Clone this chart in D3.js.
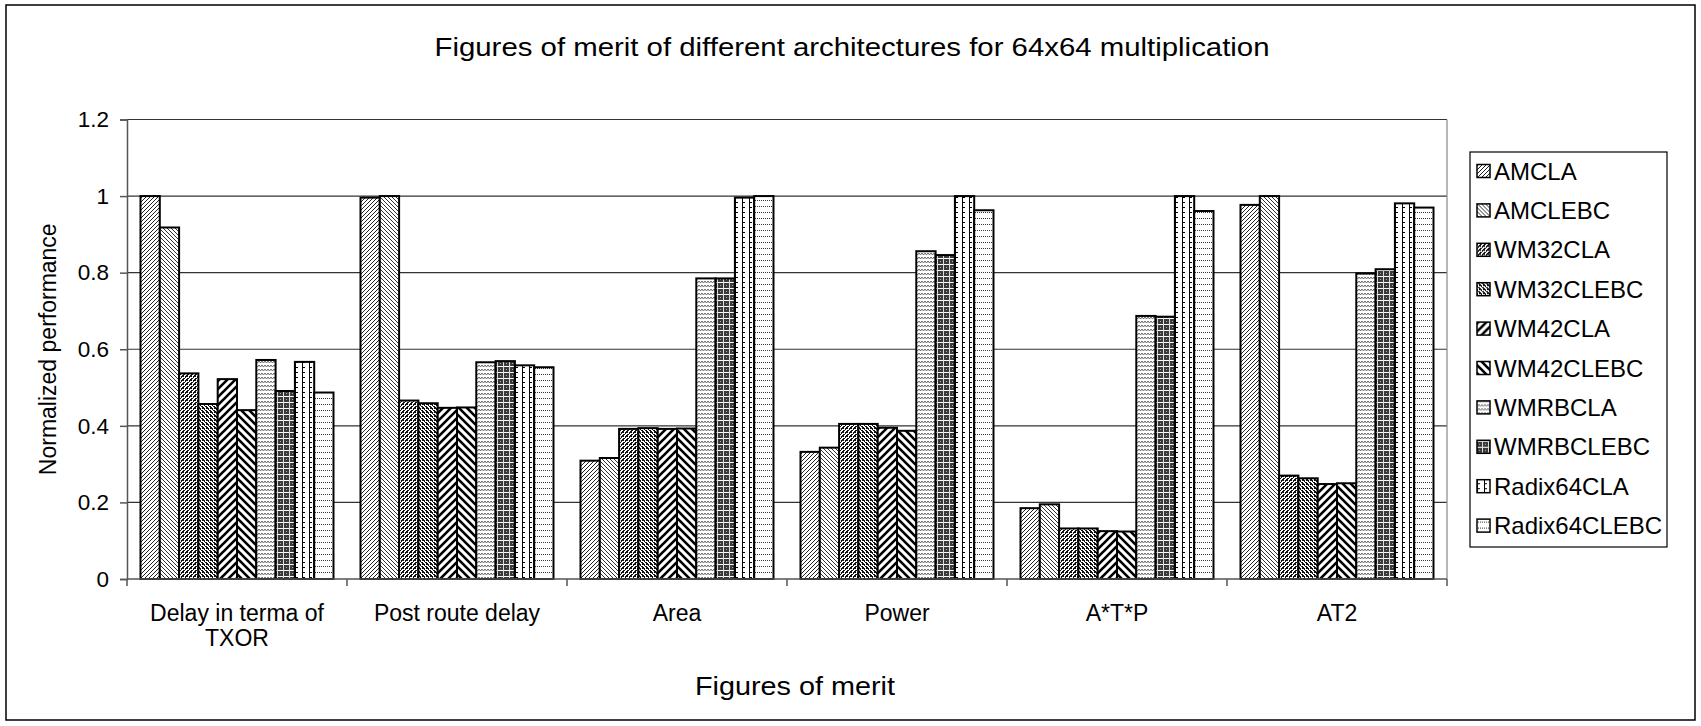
<!DOCTYPE html>
<html>
<head>
<meta charset="utf-8">
<script src="https://cdn.jsdelivr.net/npm/d3@7/dist/d3.min.js"></script>
<style>
  html, body { margin: 0; padding: 0; background: #fff; }
  svg { display: block; }
  text { font-family: "Liberation Sans", Arial, sans-serif; fill: #000; }
</style>
</head>
<body>
<svg id="chart" width="1701" height="726"></svg>
<script>
// Figures of merit, normalized per metric
const categories = ["Delay in terma of\nTXOR", "Post route delay", "Area", "Power", "A*T*P", "AT2"];
const seriesNames = ["AMCLA", "AMCLEBC", "WM32CLA", "WM32CLEBC", "WM42CLA", "WM42CLEBC",
                     "WMRBCLA", "WMRBCLEBC", "Radix64CLA", "Radix64CLEBC"];
const AMCLA        = [1.000, 0.996, 0.309, 0.332, 0.185, 0.977];
const AMCLEBC      = [0.918, 1.000, 0.316, 0.343, 0.195, 1.000];
const WM32CLA      = [0.537, 0.466, 0.392, 0.405, 0.132, 0.270];
const WM32CLEBC    = [0.457, 0.459, 0.394, 0.405, 0.132, 0.263];
const WM42CLA      = [0.522, 0.447, 0.392, 0.395, 0.125, 0.248];
const WM42CLEBC    = [0.441, 0.448, 0.393, 0.387, 0.124, 0.250];
const WMRBCLA      = [0.572, 0.566, 0.785, 0.856, 0.687, 0.798];
const WMRBCLEBC    = [0.491, 0.569, 0.785, 0.846, 0.685, 0.809];
const Radix64CLA   = [0.567, 0.558, 0.996, 1.000, 1.000, 0.981];
const Radix64CLEBC = [0.487, 0.553, 1.000, 0.963, 0.961, 0.970];
const seriesValues = [AMCLA, AMCLEBC, WM32CLA, WM32CLEBC, WM42CLA, WM42CLEBC,
                      WMRBCLA, WMRBCLEBC, Radix64CLA, Radix64CLEBC];
const yTicks = [0, 0.2, 0.4, 0.6, 0.8, 1, 1.2];
const yTickLabels = ["0", "0.2", "0.4", "0.6", "0.8", "1", "1.2"];

const svg = d3.select("#chart");
const plot = { left: 127, right: 1447, top: 119.5, bottom: 579 };

// ---- fill patterns (one per series) ----
const defs = svg.append("defs");
function pat(id, w, h, bg, draw) {
  const p = defs.append("pattern").attr("id", id)
    .attr("patternUnits", "userSpaceOnUse").attr("width", w).attr("height", h);
  p.append("rect").attr("width", w).attr("height", h).attr("fill", bg);
  draw(p);
}
function dots(p, pts, color) {
  pts.forEach(([x, y]) => p.append("rect").attr("x", x).attr("y", y)
    .attr("width", 1).attr("height", 1).attr("fill", color || "#000"));
}
// fine dotted upward diagonal
pat("p0", 4, 4, "#fff", p => dots(p, [[3,0],[2,1],[1,2],[0,3]], "#222"));
// fine dotted downward diagonal
pat("p1", 4, 4, "#fff", p => dots(p, [[0,0],[1,1],[2,2],[3,3]], "#333"));
// dark upward diagonal
pat("p2", 4, 4, "#fff", p => dots(p, [[3,0],[2,1],[1,2],[0,3],[0,0],[3,3],[2,0],[0,2]], "#111"));
// dark downward diagonal
pat("p3", 4, 4, "#fff", p => dots(p, [[0,0],[1,1],[2,2],[3,3],[3,0],[0,3],[1,0],[3,2]], "#111"));
// wide upward diagonal
pat("p4", 8, 8, "#fff", p => {
  p.append("path").attr("d", "M-2,10 L10,-2 M-2,2 L2,-2 M6,10 L10,6")
    .attr("stroke", "#000").attr("stroke-width", 2.6);
});
// wide downward diagonal
pat("p5", 8, 8, "#fff", p => {
  p.append("path").attr("d", "M-2,-2 L10,10 M6,-2 L10,2 M-2,6 L2,10")
    .attr("stroke", "#000").attr("stroke-width", 2.6);
});
// light wave
pat("p6", 6, 4, "#fff", p => {
  p.append("path").attr("d", "M0,1 L1.5,3 L3,1 L4.5,3 L6,1")
    .attr("stroke", "#666").attr("stroke-width", 1).attr("fill", "none");
});
// dark weave
pat("p7", 6, 6, "#3a3a3a", p => {
  p.append("rect").attr("x", 0).attr("y", 0).attr("width", 6).attr("height", 1).attr("fill", "#fff");
  p.append("rect").attr("x", 0).attr("y", 0).attr("width", 1).attr("height", 6).attr("fill", "#ddd");
  dots(p, [[3,3]], "#aaa");
});
// ladder / brick
pat("p8", 7, 5, "#fff", p => {
  p.append("rect").attr("x", 0).attr("y", 0).attr("width", 1).attr("height", 5).attr("fill", "#000");
  p.append("rect").attr("x", 0).attr("y", 2).attr("width", 3).attr("height", 1).attr("fill", "#000");
});
// dotted horizontal
pat("p9", 4, 6, "#fff", p => dots(p, [[0,2],[2,2]], "#333"));

// ---- scales ----
const x0 = d3.scaleBand().domain(d3.range(categories.length))
  .range([plot.left, plot.right]).paddingInner(0).paddingOuter(0);
const x1 = d3.scaleBand().domain(d3.range(seriesNames.length))
  .range([13.5, x0.bandwidth() - 13.5]).padding(0);
const y = d3.scaleLinear().domain([0, 1.2]).range([plot.bottom, plot.top]);

// ---- gridlines ----
svg.append("g").selectAll("line").data(yTicks.filter(d => d > 0)).join("line")
  .attr("x1", plot.left).attr("x2", plot.right)
  .attr("y1", d => y(d)).attr("y2", d => y(d))
  .attr("stroke", "#333").attr("stroke-width", 1.2);

// plot area right edge
svg.append("line").attr("x1", plot.right).attr("x2", plot.right)
  .attr("y1", plot.top).attr("y2", plot.bottom)
  .attr("stroke", "#888").attr("stroke-width", 1.2);

// ---- bars ----
const groups = svg.append("g").selectAll("g").data(categories).join("g")
  .attr("transform", (d, i) => `translate(${x0(i)},0)`);
groups.selectAll("rect")
  .data((d, ci) => seriesValues.map((vals, si) => ({ si, v: vals[ci] })))
  .join("rect")
  .attr("x", d => x1(d.si))
  .attr("width", x1.bandwidth())
  .attr("y", d => y(d.v))
  .attr("height", d => y(0) - y(d.v))
  .attr("fill", d => `url(#p${d.si})`)
  .attr("stroke", "#000").attr("stroke-width", 2);

// ---- y axis ----
const yAxis = svg.append("g").attr("transform", `translate(${plot.left},0)`)
  .call(d3.axisLeft(y).tickValues(yTicks).tickSize(7).tickPadding(11)
    .tickFormat((d, i) => yTickLabels[i]));
yAxis.select(".domain").attr("stroke", "#555").attr("stroke-width", 1.5);
yAxis.selectAll(".tick line").attr("stroke", "#555").attr("stroke-width", 1.5);
yAxis.selectAll(".tick text").style("font-size", "22.5px")
  .style("font-family", '"Liberation Sans", Arial, sans-serif').attr("fill", "#000");

// ---- x axis ----
const xAxisG = svg.append("g").attr("transform", `translate(0,${plot.bottom})`);
xAxisG.append("line").attr("x1", plot.left).attr("x2", plot.right)
  .attr("stroke", "#555").attr("stroke-width", 1.5);
xAxisG.selectAll("line.tk").data(d3.range(categories.length + 1)).join("line")
  .attr("class", "tk")
  .attr("x1", i => plot.left + i * x0.bandwidth()).attr("x2", i => plot.left + i * x0.bandwidth())
  .attr("y1", 0).attr("y2", 7).attr("stroke", "#555").attr("stroke-width", 1.5);
const xl = xAxisG.selectAll("text").data(categories).join("text")
  .attr("text-anchor", "middle")
  .attr("transform", (d, i) => `translate(${x0(i) + x0.bandwidth() / 2},42)`)
  .style("font-size", "23px");
xl.selectAll("tspan").data(d => d.split("\n")).join("tspan")
  .attr("x", 0).attr("dy", (d, i) => i === 0 ? 0 : 25).text(d => d);

// ---- titles ----
svg.append("text").attr("x", 852).attr("y", 56).attr("text-anchor", "middle")
  .style("font-size", "25px")
  .attr("textLength", 835).attr("lengthAdjust", "spacingAndGlyphs")
  .text("Figures of merit of different architectures for 64x64 multiplication");
svg.append("text").attr("x", 795).attr("y", 695).attr("text-anchor", "middle")
  .style("font-size", "25px")
  .attr("textLength", 200).attr("lengthAdjust", "spacingAndGlyphs")
  .text("Figures of merit");
svg.append("text").attr("transform", `translate(56,${(plot.top + plot.bottom) / 2}) rotate(-90)`)
  .attr("text-anchor", "middle").style("font-size", "23px").text("Normalized performance");

// ---- legend ----
const legend = svg.append("g");
legend.append("rect").attr("x", 1470).attr("y", 152).attr("width", 197).attr("height", 395)
  .attr("fill", "#fff").attr("stroke", "#000").attr("stroke-width", 1.2);
const rowY = i => 171 + i * 39.4;
const items = legend.selectAll("g").data(seriesNames).join("g")
  .attr("transform", (d, i) => `translate(0,${rowY(i)})`);
items.append("rect").attr("x", 1477).attr("y", -6.5).attr("width", 13).attr("height", 13)
  .attr("fill", (d, i) => `url(#p${i})`).attr("stroke", "#000").attr("stroke-width", 1.5);
items.append("text").attr("x", 1494).attr("y", 8.5).style("font-size", "24px").text(d => d);

// ---- outer frame ----
svg.append("rect").attr("x", 6).attr("y", 5).attr("width", 1689).attr("height", 715)
  .attr("fill", "none").attr("stroke", "#000").attr("stroke-width", 1.5);
</script>
</body>
</html>
